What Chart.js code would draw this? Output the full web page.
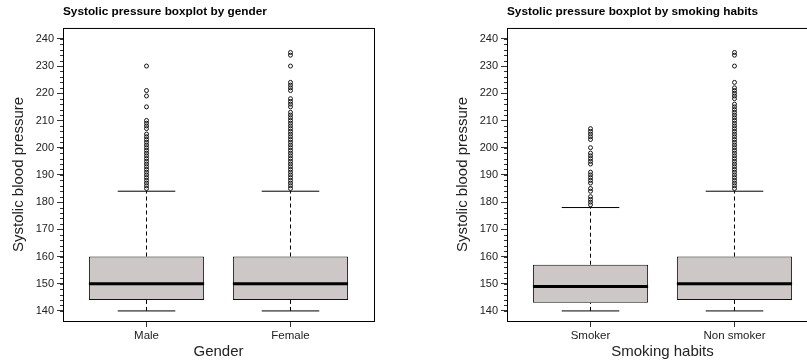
<!DOCTYPE html>
<html>
<head>
<meta charset="utf-8">
<script src="https://cdn.jsdelivr.net/npm/chart.js@4.4.0/dist/chart.umd.min.js"></script>
<style>
  html, body { margin: 0; padding: 0; background: #fff; overflow: hidden; }
  body { width: 807px; height: 360px; position: relative; }
  .panel { position: absolute; top: 0; width: 400px; height: 360px; }
  #genderPanel { left: 0; }
  #smokingPanel { left: 444px; }
</style>
</head>
<body>
<div class="panel" id="genderPanel"><canvas id="genderChart"></canvas></div>
<div class="panel" id="smokingPanel"><canvas id="smokingChart"></canvas></div>
<script>
// Boxplot stats for each group
const genderLabels = ['Male', 'Female'];
const genderLow = [140, 140];
const genderQ1 = [144, 144];
const genderMedian = [150, 150];
const genderQ3 = [160, 160];
const genderHigh = [184, 184];

const maleOutliers = [185, 186, 187, 188, 189, 190, 191, 192, 193, 194, 195, 196, 197, 198, 199, 200,
    201, 202, 203, 204, 205, 207, 208, 209, 210, 215, 219, 221, 230];
const femaleOutliers = [185, 186, 187, 188, 189, 190, 191, 192, 193, 194, 195, 196, 197, 198, 199, 200,
    201, 202, 203, 204, 205, 206, 207, 208, 209, 210, 211, 212, 213, 215, 216, 217, 218, 221, 222, 223,
    224, 230, 234, 235];

const smokingLabels = ['Smoker', 'Non smoker'];
const smokingLow = [140, 140];
const smokingQ1 = [143, 144];
const smokingMedian = [149, 150];
const smokingQ3 = [157, 160];
const smokingHigh = [178, 184];

const smokerOutliers = [179, 180, 181, 182, 184, 185, 187, 188, 189, 190, 191, 194, 195, 196, 197, 198,
    200, 203, 204, 205, 206, 207];
const nonSmokerOutliers = [185, 186, 187, 188, 189, 190, 191, 192, 193, 194, 195, 196, 197, 198, 199, 200,
    201, 202, 203, 204, 205, 206, 207, 208, 209, 210, 211, 212, 213, 214, 215, 216, 218, 219, 220, 221,
    222, 224, 230, 234, 235];

const yTicks = [140, 150, 160, 170, 180, 190, 200, 210, 220, 230, 240];
const yMinorTicks = [];
for (let v = 140; v <= 240; v += 2) yMinorTicks.push(v);

const BOX_HALF = 0.4;   // boxwex 0.8
const CAP_HALF = 0.2;   // staple is half the box
const FONT = "'Liberation Sans', Arial, Helvetica, sans-serif";
const TEXT = '#222';

// Turn a list of [x0, x1, y0, y1] segments into one line dataset with gaps
function segments(list, extra) {
    const pts = [];
    list.forEach(([x0, x1, y0, y1]) => {
        pts.push({ x: x0, y: y0 }, { x: x1, y: y1 }, { x: x1, y: null });
    });
    return Object.assign({
        type: 'line',
        data: pts,
        borderColor: '#000',
        borderWidth: 1,
        pointRadius: 0,
        spanGaps: false,
        fill: false
    }, extra);
}

// Frame round the plot area plus the small ticks between the labelled ones
const framePlugin = {
    id: 'frame',
    afterDraw(chart) {
        const { ctx, chartArea: a } = chart;
        const y = chart.scales.y;
        ctx.save();
        ctx.strokeStyle = '#000';
        ctx.lineWidth = 1;
        ctx.strokeRect(a.left + 0.5, a.top + 0.5, a.right - a.left, a.bottom - a.top);
        ctx.strokeStyle = '#333';
        ctx.beginPath();
        yMinorTicks.forEach(v => {
            const py = Math.round(y.getPixelForValue(v)) + 0.5;
            ctx.moveTo(a.left - 3, py);
            ctx.lineTo(a.left, py);
        });
        ctx.stroke();
        ctx.restore();
    }
};

function makeBoxplot(canvasId, title, xTitle, labels, low, q1, med, q3, high, outliers) {
    const pos = labels.map((l, i) => i + 1);

    const boxes = {
        type: 'bar',
        data: pos.map((x, i) => ({ x: x, y: [q1[i], q3[i]] })),
        backgroundColor: '#cdc7c7',
        borderColor: '#111',
        borderWidth: 1,
        borderSkipped: false,
        categoryPercentage: 1,
        barPercentage: BOX_HALF * 2,
        order: 5
    };

    const whiskers = segments(
        pos.flatMap((x, i) => [[x, x, q3[i], high[i]], [x, x, low[i], q1[i]]]),
        { borderDash: [4, 3], order: 4 }
    );
    const caps = segments(
        pos.flatMap((x, i) => [[x - CAP_HALF, x + CAP_HALF, high[i], high[i]],
                               [x - CAP_HALF, x + CAP_HALF, low[i], low[i]]]),
        { order: 3 }
    );
    const medians = segments(
        pos.map((x, i) => [x - BOX_HALF, x + BOX_HALF, med[i], med[i]]),
        { borderWidth: 3, borderCapStyle: 'butt', order: 1 }
    );
    const points = {
        type: 'scatter',
        data: pos.flatMap((x, i) => outliers[i].map(v => ({ x: x, y: v }))),
        pointStyle: 'circle',
        pointRadius: 2,
        pointBorderWidth: 0.9,
        pointBorderColor: '#000',
        pointBackgroundColor: 'rgba(0,0,0,0)',
        showLine: false,
        order: 2
    };

    return new Chart(document.getElementById(canvasId), {
        type: 'bar',
        data: { datasets: [boxes, whiskers, caps, medians, points] },
        options: {
            responsive: true,
            maintainAspectRatio: false,
            animation: false,
            layout: { padding: { left: 0, right: 26, top: 0, bottom: 0 } },
            plugins: {
                legend: { display: false },
                tooltip: { enabled: false },
                title: {
                    display: true,
                    text: title,
                    align: 'start',
                    fullSize: false,
                    color: '#000',
                    font: { family: FONT, size: 11.8, weight: 'bold', lineHeight: 1.2 },
                    padding: { top: 5, bottom: 8.8 }
                }
            },
            scales: {
                x: {
                    type: 'linear',
                    min: 0.42,
                    max: 2.58,
                    offset: false,
                    grid: { display: true, drawOnChartArea: false, offset: false, tickLength: 6, color: '#333' },
                    border: { display: false },
                    afterBuildTicks: s => { s.ticks = pos.map(v => ({ value: v })); },
                    afterFit: s => { s.height = 39; },
                    ticks: {
                        color: TEXT,
                        padding: 2,
                        maxRotation: 0,
                        autoSkip: false,
                        font: { family: FONT, size: 11.5 },
                        callback: v => labels[v - 1]
                    },
                    title: {
                        display: true,
                        text: xTitle,
                        color: TEXT,
                        font: { family: FONT, size: 15, lineHeight: 1 },
                        padding: { top: 0, bottom: 1 }
                    }
                },
                y: {
                    type: 'linear',
                    min: 136.3,
                    max: 244,
                    grid: { display: true, drawOnChartArea: false, tickLength: 6, color: '#333' },
                    border: { display: false },
                    afterBuildTicks: s => { s.ticks = yTicks.map(v => ({ value: v })); },
                    afterFit: s => { s.width = 63; },
                    ticks: {
                        color: TEXT,
                        padding: 3,
                        font: { family: FONT, size: 11 }
                    },
                    title: {
                        display: true,
                        text: 'Systolic blood pressure',
                        color: TEXT,
                        font: { family: FONT, size: 15, lineHeight: 1 },
                        padding: { top: 11, bottom: 0 }
                    }
                }
            }
        },
        plugins: [framePlugin]
    });
}

makeBoxplot('genderChart', 'Systolic pressure boxplot by gender', 'Gender',
    genderLabels, genderLow, genderQ1, genderMedian, genderQ3, genderHigh,
    [maleOutliers, femaleOutliers]);

makeBoxplot('smokingChart', 'Systolic pressure boxplot by smoking habits', 'Smoking habits',
    smokingLabels, smokingLow, smokingQ1, smokingMedian, smokingQ3, smokingHigh,
    [smokerOutliers, nonSmokerOutliers]);
</script>
</body>
</html>
